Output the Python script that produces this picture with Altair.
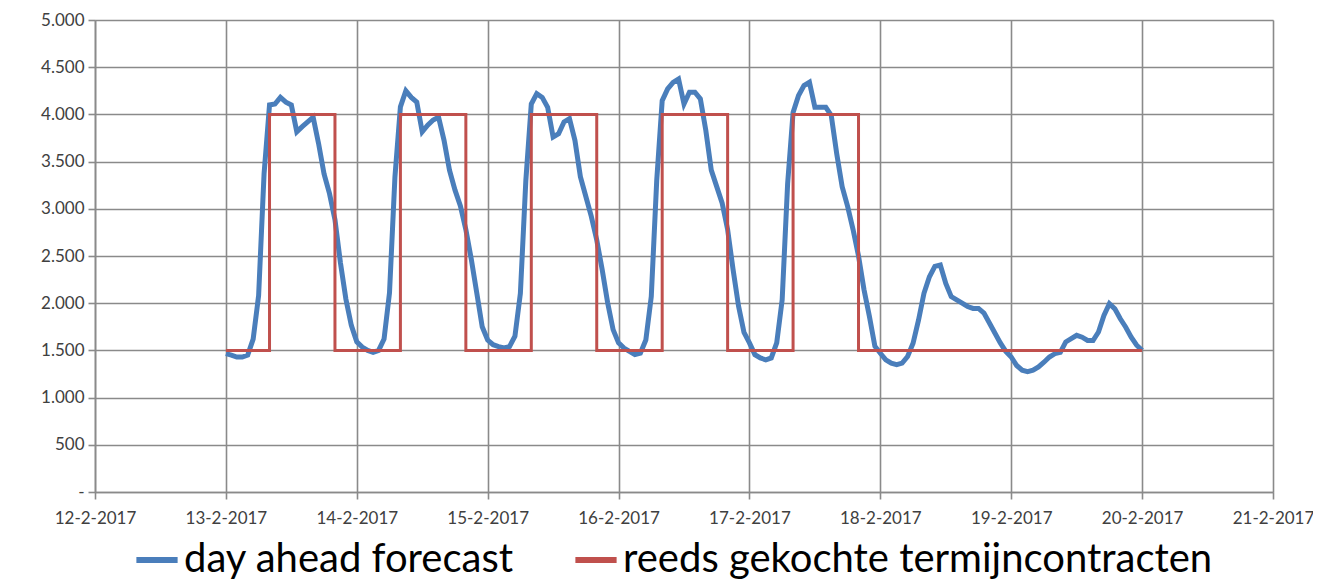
import altair as alt
import pandas as pd

# ---- data ----
forecast_label = "day ahead forecast"
contract_label = "reeds gekochte termijncontracten"

# hourly day-ahead forecast values, 13-2-2017 00:00 .. 19-2-2017 23:00 (+ final point 20-2 00:00)
day_13 = [1465, 1450, 1430, 1430, 1450, 1620, 2080, 3370, 4100, 4110, 4180, 4130,
          4100, 3815, 3870, 3920, 3970, 3690, 3370, 3160, 2885, 2430, 2045, 1765]
day_14 = [1590, 1535, 1500, 1480, 1500, 1620, 2110, 3340, 4080, 4250, 4180, 4130,
          3815, 3885, 3940, 3970, 3725, 3410, 3200, 3030, 2780, 2465, 2110, 1750]
day_15 = [1610, 1560, 1540, 1525, 1540, 1650, 2105, 3300, 4110, 4220, 4180, 4075,
          3760, 3795, 3920, 3955, 3725, 3340, 3130, 2920, 2670, 2355, 2005, 1720]
day_16 = [1580, 1525, 1490, 1455, 1470, 1610, 2070, 3300, 4145, 4270, 4340, 4375,
          4110, 4235, 4235, 4165, 3830, 3410, 3235, 3060, 2780, 2355, 1970, 1690]
day_17 = [1580, 1455, 1420, 1400, 1420, 1580, 2035, 3265, 4020, 4200, 4305, 4340,
          4075, 4075, 4075, 3990, 3585, 3235, 3025, 2780, 2500, 2145, 1860, 1545]
day_18 = [1470, 1400, 1365, 1350, 1365, 1435, 1575, 1820, 2105, 2280, 2390, 2405,
          2210, 2070, 2035, 2000, 1965, 1945, 1945, 1895, 1790, 1685, 1580, 1490]
day_19 = [1430, 1340, 1290, 1275, 1290, 1325, 1375, 1430, 1465, 1480, 1590, 1625,
          1660, 1640, 1605, 1605, 1695, 1870, 1995, 1940, 1835, 1745, 1640, 1555]
final_value = [1500]

# already purchased forward contracts (step changes)
contract_times = [
    "2017-02-13 00:00", "2017-02-13 08:00", "2017-02-13 20:00",
    "2017-02-14 08:00", "2017-02-14 20:00",
    "2017-02-15 08:00", "2017-02-15 20:00",
    "2017-02-16 08:00", "2017-02-16 20:00",
    "2017-02-17 08:00", "2017-02-17 20:00",
    "2017-02-20 00:00",
]
contract_values = [1500, 4000, 1500, 4000, 1500, 4000, 1500, 4000, 1500, 4000, 1500, 1500]

y_ticks = [0, 500, 1000, 1500, 2000, 2500, 3000, 3500, 4000, 4500, 5000]
x_ticks = ["2017-02-%02d" % d for d in range(12, 22)]

# ---- build tables ----
def iso(s):
    return pd.Timestamp(s).strftime("%Y-%m-%dT%H:%M:%S")

forecast_values = day_13 + day_14 + day_15 + day_16 + day_17 + day_18 + day_19 + final_value
forecast_times = pd.date_range("2017-02-13 00:00", periods=len(forecast_values), freq="h")
df_f = pd.DataFrame({
    "t": forecast_times.strftime("%Y-%m-%dT%H:%M:%S"),
    "v": forecast_values,
    "serie": forecast_label,
})
df_c = pd.DataFrame({
    "t": [iso(s) for s in contract_times],
    "v": contract_values,
    "serie": contract_label,
})

grid_col = "#8a8a8a"
label_col = "#404040"
font = "Lato"

x_enc = alt.X(
    "t:T",
    scale=alt.Scale(domain=[iso(x_ticks[0]), iso(x_ticks[-1])]),
    axis=alt.Axis(
        title=None,
        values=[iso(s) for s in x_ticks],
        format="%-d-%-m-%Y",
        labelFontSize=17, labelColor=label_col, labelFont=font,
        labelPadding=11, tickSize=7, tickColor=grid_col, tickWidth=1.6,
        domainColor=grid_col, domainWidth=1.6,
        grid=True, gridColor=grid_col, gridWidth=1.6,
        labelFlush=False,
    ),
)
y_enc = alt.Y(
    "v:Q",
    scale=alt.Scale(domain=[0, 5000], nice=False),
    axis=alt.Axis(
        title=None,
        values=y_ticks,
        labelExpr="datum.value == 0 ? '-' : replace(format(datum.value, ',d'), ',', '.')",
        labelFontSize=17, labelColor=label_col, labelFont=font,
        labelPadding=4, tickSize=7, tickColor=grid_col, tickWidth=1.6,
        domainColor=grid_col, domainWidth=1.6,
        grid=True, gridColor=grid_col, gridWidth=1.6,
        labelFlush=False,
    ),
)
color_enc = alt.Color(
    "serie:N",
    scale=alt.Scale(domain=[forecast_label, contract_label], range=["#4a7ebb", "#c0504d"]),
    legend=alt.Legend(
        title=None, orient="none", direction="horizontal",
        legendX=38, legendY=516,
        labelFontSize=40, labelFont=font, labelColor="#000000",
        symbolType="stroke", symbolSize=1700, symbolStrokeWidth=6,
        columnPadding=48, labelOffset=3, labelLimit=900,
    ),
)

forecast = alt.Chart(df_f).mark_line(strokeWidth=5, interpolate="linear").encode(
    x=x_enc, y=y_enc, color=color_enc
)
contracts = alt.Chart(df_c).mark_line(strokeWidth=3, interpolate="step-after").encode(
    x=x_enc, y=y_enc, color=color_enc
)

chart = alt.layer(forecast, contracts).properties(
    width=1178, height=472,
    autosize=alt.AutoSizeParams(type="none"),
    padding={"left": 87, "top": 12, "right": 40, "bottom": 90},
).configure_view(stroke=None).configure(background="white")

chart.save("out.html", embed_options={"renderer": "svg", "actions": False})
